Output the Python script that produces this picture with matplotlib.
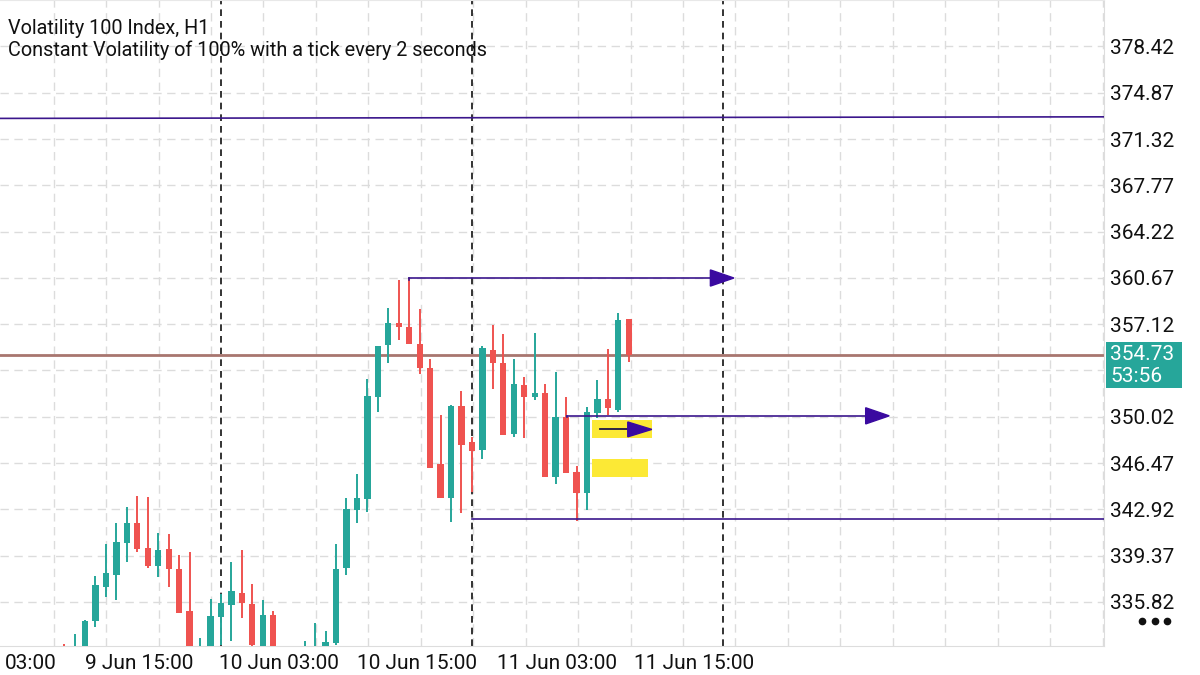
import numpy as np
import matplotlib
matplotlib.use("Agg")
import matplotlib.pyplot as plt
from matplotlib.patches import Rectangle, Polygon
from matplotlib.lines import Line2D

plt.rcParams['font.family'] = ['Roboto', 'DejaVu Sans']

# hours relative to 10 Jun 00:00 (H1 candles)
hours = list(range(-15, 40))
opens = [331.5, 331.6, 331.9, 334.35, 336.96, 337.88, 340.33, 341.87, 339.95, 338.57, 339.87,
         338.34, 335.12, 331.6, 331.9, 334.66, 335.58, 336.50, 335.66, 332.0, 334.81, 331.9,
         330.9, 331.2, 331.5, 331.9, 332.67, 338.42, 342.86, 343.71, 351.53, 355.52, 357.21,
         356.90, 355.60, 353.75, 346.39, 343.79, 350.84, 348.08, 347.47, 355.14, 354.14, 348.69,
         352.45, 351.55, 351.84, 345.40, 350.00, 345.78, 344.17, 350.30, 351.38, 350.53, 357.51]
highs = [332.59, 333.36, 334.40, 337.80, 340.26, 341.87, 343.09, 343.94, 343.86, 341.10, 341.02,
         339.41, 339.64, 333.05, 336.04, 336.40, 338.88, 339.80, 337.19, 335.96, 335.14, 332.0,
         331.9, 332.82, 334.20, 333.59, 340.26, 343.79, 345.60, 352.91, 355.44, 358.36, 360.50,
         360.66, 358.28, 354.44, 350.15, 350.92, 351.99, 348.46, 355.44, 357.05, 356.36, 354.42,
         353.06, 356.44, 352.53, 353.45, 351.53, 346.24, 350.76, 352.83, 355.21, 357.97, 357.51]
lows = [330.5, 331.2, 331.6, 333.89, 336.19, 335.96, 338.88, 339.64, 338.42, 337.73, 336.96,
        334.97, 331.5, 331.3, 331.5, 332.5, 332.82, 334.58, 332.3, 331.7, 331.6, 330.6,
        330.5, 330.9, 331.2, 331.6, 332.51, 337.88, 341.84, 342.71, 350.38, 354.14, 355.90,
        355.60, 353.29, 346.09, 343.79, 341.94, 342.63, 344.25, 346.78, 352.14, 348.62, 348.46,
        348.39, 351.30, 345.40, 344.86, 345.70, 342.02, 342.87, 349.92, 350.15, 350.38, 354.21]
closes = [331.0, 332.0, 334.35, 337.11, 338.03, 340.41, 341.87, 339.87, 338.57, 339.80, 338.34,
          334.97, 331.8, 332.0, 334.74, 335.73, 336.65, 335.73, 332.5, 334.81, 331.9, 331.0,
          331.5, 331.9, 332.0, 332.74, 338.34, 342.94, 343.77, 351.61, 355.44, 357.21, 356.90,
          355.60, 353.75, 346.09, 343.79, 350.84, 347.87, 347.39, 355.27, 354.14, 348.62, 352.53,
          351.53, 351.81, 345.40, 350.00, 345.70, 344.17, 350.38, 351.38, 350.69, 357.44, 354.73]

price_ticks = [335.82, 339.37, 342.92, 346.47, 350.02, 353.57, 357.12, 360.67, 364.22,
               367.77, 371.32, 374.87, 378.42]
hidden_tick = 353.57  # sits under the price tag
x_label_pos = [-18.2, -7.8, 5.5, 18.75, 32.1, 45.2]
x_labels = ["03:00", "9 Jun 15:00", "10 Jun 03:00", "10 Jun 15:00", "11 Jun 03:00", "11 Jun 15:00"]
day_separators = [0, 24, 48]

current_price = 354.73
countdown = "53:56"

# drawn objects
trend_hours = [-21.2, 84.4]
trend_prices = [372.90, 373.02]
arrow_levels = [360.66, 350.09]
arrow_start = [18, 33.1]
arrow_tip = [49.05, 63.9]
small_arrow = dict(level=349.05, start=36.2, tip=41.2)
support_level = 342.17
support_start = 24
zones = [(35.47, 41.2, 348.36, 349.77), (35.47, 40.83, 345.42, 346.75)]

UP = '#26a69a'
DOWN = '#ef5350'
PURPLE = '#3b168c'
HEAD = '#3a0aa0'

W, H = 1200, 675
fig = plt.figure(figsize=(12, 6.75), dpi=100)
ax = fig.add_axes([0, 29 / H, 1104 / W, 646 / H])
ax.set_xlim(-21.13, 84.44)
ax.set_ylim(332.44, 381.98)

# grid
for p in price_ticks:
    ax.axhline(p, color='#dcdcdc', lw=1, ls=(0, (6, 4)), zorder=0)
for g in np.arange(-16.0, 85, 5.015):
    ax.axvline(g, color='#dcdcdc', lw=1, ls=(0, (6, 4)), zorder=0)
for s in day_separators:
    ax.axvline(s, color='#111111', lw=1.2, ls=(0, (4, 3)), zorder=1)

# candles
for h, o, hi, lo, c in zip(hours, opens, highs, lows, closes):
    col = UP if c >= o else DOWN
    ax.vlines(h, lo, hi, color=col, lw=1.4, zorder=3)
    ax.add_patch(Rectangle((h - 0.3, min(o, c)), 0.6, max(abs(c - o), 0.12),
                           facecolor=col, edgecolor='none', zorder=4))

# current price line
ax.axhline(current_price, color='#a8766f', lw=2, zorder=2)

# trendline and levels
ax.plot(trend_hours, trend_prices, color=PURPLE, lw=1.2, zorder=5)
ax.plot([support_start, 90], [support_level, support_level], color=PURPLE, lw=1.2, zorder=5)
for lvl, st, tip in zip(arrow_levels, arrow_start, arrow_tip):
    base = tip - 2.25
    ax.plot([st, st], [lvl - 0.12, lvl], color=PURPLE, lw=1.2, zorder=5)
    ax.plot([st, base], [lvl, lvl], color=PURPLE, lw=1.2, zorder=5)
    ax.add_patch(Polygon([[base, lvl + 0.62], [base, lvl - 0.62], [tip, lvl]],
                         closed=True, facecolor=HEAD, edgecolor=HEAD, zorder=6))

for x0, x1, y0, y1 in zones:
    ax.add_patch(Rectangle((x0, y0), x1 - x0, y1 - y0, facecolor='#fce935',
                           edgecolor='none', zorder=5))
sa = small_arrow
ax.plot([sa['start'], sa['tip'] - 2.2], [sa['level']] * 2, color='#1d1545', lw=1.3, zorder=6)
ax.add_patch(Polygon([[sa['tip'] - 2.3, sa['level'] + 0.57], [sa['tip'] - 2.3, sa['level'] - 0.57],
                      [sa['tip'], sa['level']]], closed=True, facecolor=HEAD,
                     edgecolor=HEAD, zorder=7))

# axes styling
ax.spines['left'].set_visible(False)
ax.spines['right'].set_color('#dddddd')
ax.spines['bottom'].set_color('#dddddd')
ax.spines['top'].set_color('#e8e8e8')
ax.yaxis.tick_right()
ax.set_yticks(price_ticks)
ax.set_yticklabels(["" if p == hidden_tick else f"{p:.2f}" for p in price_ticks])
ax.tick_params(axis='y', length=0, pad=4, labelsize=15, labelcolor='#111111')
ax.set_xticks(x_label_pos)
ax.set_xticklabels(x_labels)
ax.tick_params(axis='x', length=0, pad=6, labelsize=15, labelcolor='#111111')

# price tag
fig.patches.append(Rectangle((1106 / W, 1 - 388 / H), 76 / W, 46 / H, transform=fig.transFigure,
                             facecolor=UP, edgecolor='none'))
fig.text(1110 / W, 1 - 354 / H, f"{current_price:.2f}", color='white', fontsize=15, va='center')
fig.text(1110 / W, 1 - 376 / H, countdown, color='white', fontsize=15, va='center')

# menu dots
fig.lines.append(Line2D([1142 / W, 1154.5 / W, 1167 / W], [1 - 621 / H] * 3,
                        transform=fig.transFigure, ls='none', marker='o', ms=4.5,
                        color='#111111'))

# title
fig.text(8 / W, 1 - 34 / H, "Volatility 100 Index, H1", fontsize=14.3, color='#111111', va='baseline')
fig.text(8 / W, 1 - 56 / H, "Constant Volatility of 100% with a tick every 2 seconds",
         fontsize=14.3, color='#111111', va='baseline')

fig.savefig("out.png", dpi=100, facecolor='white')
